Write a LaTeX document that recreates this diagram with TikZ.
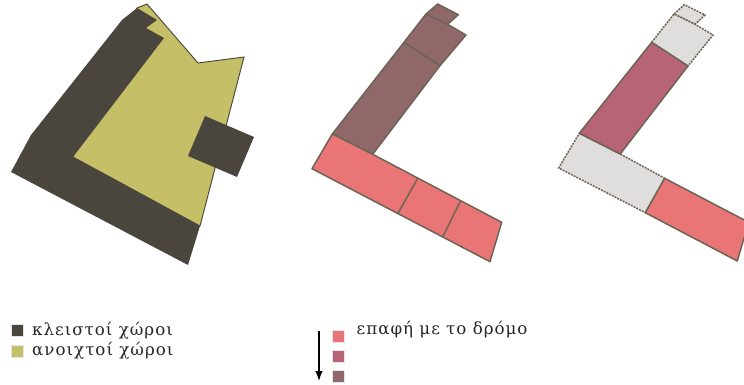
\documentclass[tikz,border=0pt]{standalone}
\usepackage{xcolor}
\usepackage{fontspec}
\setmainfont[LetterSpace=6]{DejaVu Serif}
\usepackage{tikz}
\usetikzlibrary{positioning,arrows.meta}
\definecolor{closedc}{HTML}{4B463D}
\definecolor{openc}{HTML}{C5BF68}
\definecolor{brownc}{HTML}{90686A}
\definecolor{redc}{HTML}{E97576}
\definecolor{purplec}{HTML}{B76478}
\definecolor{greyc}{HTML}{DFDEDC}
\definecolor{edgec}{HTML}{6B6353}

\begin{document}
\begin{tikzpicture}[x=0.75pt,y=-0.75pt,>=Latex,
  plan/.style={draw=edgec,line width=1.1pt,line join=round},
  gone/.style={draw=edgec,line width=1.1pt,dash pattern=on 1.5pt off 0.8pt,fill=greyc},
  swatch/.style={minimum size=9pt,inner sep=0pt,draw=black!10,line width=0.2pt},
  every node/.style={font=\fontsize{12.5pt}{15pt}\selectfont,text=black!85}]
\useasboundingbox (0,0) rectangle (744,385);
% massing
\fill[openc,draw=closedc,line width=0.7pt] (137,8) -- (147,4) -- (198,63) -- (244,57) -- (200,226) -- (73,157) -- cycle;
\fill[closedc] (137,8) -- (122,20) -- (31,135) -- (11,172) -- (188,265) -- (200,226) -- (73,157) -- (164,38) -- (146,28) -- (157,20) -- cycle;
\fill[closedc] (205,116) -- (254,137) -- (237,177) -- (188,156) -- cycle;
% contact, middle
\draw[plan,fill=brownc] (332.3,134) -- (404,42.3) -- (426,14) -- (437.7,4) -- (458.3,14.7) -- (447.7,24.3) -- (466,35) -- (440,65.7) -- (372.7,154.3) -- cycle;
\draw[plan] (426,14) -- (447.7,24.3);
\draw[plan] (404,42.3) -- (440,65.7);
\draw[plan,fill=redc] (332.3,134) -- (372.7,154.3) -- (501.7,222.3) -- (490,261.7) -- (312,168.7) -- cycle;
\draw[plan] (417.3,179) -- (398,213.3);
\draw[plan] (460.3,201.3) -- (442.7,237);
% contact, right
\draw[gone] (674,14) -- (684.3,4.7) -- (705,15) -- (695,24.3) -- cycle;
\draw[gone] (651.7,42.3) -- (674,14) -- (695,24.3) -- (713,35) -- (688,66) -- cycle;
\draw[gone] (579.3,133.3) -- (620.3,154) -- (664.7,178.3) -- (645.3,212.7) -- (558.7,168) -- cycle;
\draw[plan,fill=purplec] (651.7,42.3) -- (688,66) -- (620.3,154) -- (579.3,133.3) -- cycle;
\draw[plan,fill=redc] (664.7,178.3) -- (748.7,222.3) -- (737.3,261) -- (645.3,212.7) -- cycle;
% legend
\node[swatch,fill=closedc] (closedbox) at (16.7,330.5) {};
\node[swatch,fill=openc,below=6pt of closedbox] (openbox) {};
\node[right=3.5pt of closedbox] (closedtxt) {κλειστοί χώροι};
\node[right=3.5pt of openbox] (opentxt) {ανοιχτοί χώροι};
\node[swatch,fill=redc] (redbox) at (338.5,336.3) {};
\node[swatch,fill=purplec,below=5.7pt of redbox] (purplebox) {};
\node[swatch,fill=brownc,below=5.7pt of purplebox] (brownbox) {};
\node[anchor=west] (roadtxt) at (352,329.5) {επαφή με το δρόμο};
\coordinate (top) at (319,331);
\coordinate (bot) at (319,381);
\draw[->,line width=1pt] (top) -- (bot);
\end{tikzpicture}
\end{document}
